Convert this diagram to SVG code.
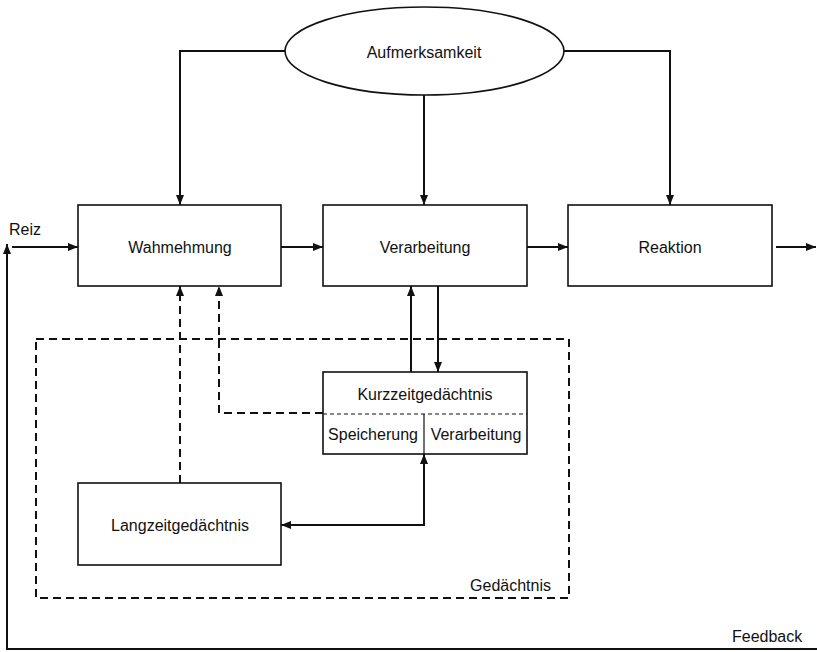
<svg xmlns="http://www.w3.org/2000/svg" width="817" height="652" viewBox="0 0 817 652">
<style>
text{font-family:"Liberation Sans",Arial,sans-serif;font-size:16px;fill:#111}
.box{fill:#fff;stroke:#111;stroke-width:1.6}
.c{fill:none;stroke:#111;stroke-width:2}
.d{fill:none;stroke:#111;stroke-width:2;stroke-dasharray:8 5}
.thin{fill:none;stroke:#111;stroke-width:1.2;stroke-dasharray:4 3}
</style>
<defs>
<marker id="a" markerUnits="userSpaceOnUse" markerWidth="10" markerHeight="8" refX="10" refY="4" orient="auto-start-reverse">
<path d="M0,0 L10,4 L0,8 z" fill="#111"/>
</marker>
</defs>
<g id="gedaechtnis">
<rect x="36" y="339" width="533" height="259" class="d"/>
<text x="551" y="591" text-anchor="end">Gedächtnis</text>
</g>
<g id="aufmerksamkeit">
<ellipse cx="424.5" cy="51" rx="139.5" ry="44" class="box"/>
<text x="424" y="58" text-anchor="middle">Aufmerksamkeit</text>
</g>
<g id="wahrnehmung">
<rect x="78" y="205" width="203" height="81" class="box"/>
<text x="180" y="253" text-anchor="middle">Wahmehmung</text>
</g>
<g id="verarbeitung">
<rect x="323" y="205" width="204" height="81" class="box"/>
<text x="425" y="253" text-anchor="middle">Verarbeitung</text>
</g>
<g id="reaktion">
<rect x="568" y="205" width="204" height="81" class="box"/>
<text x="670" y="253" text-anchor="middle">Reaktion</text>
</g>
<g id="kurzzeit">
<rect x="323" y="372" width="204" height="82" class="box"/>
<line x1="323" y1="414" x2="527" y2="414" class="thin"/>
<line x1="424" y1="414" x2="424" y2="454" stroke="#111" stroke-width="1.2"/>
<text x="425" y="400" text-anchor="middle">Kurzzeitgedächtnis</text>
<text x="373" y="440" text-anchor="middle">Speicherung</text>
<text x="476" y="440" text-anchor="middle">Verarbeitung</text>
</g>
<g id="langzeit">
<rect x="78" y="483" width="203" height="82" class="box"/>
<text x="180" y="531" text-anchor="middle">Langzeitgedächtnis</text>
</g>
<g id="labels">
<text x="9" y="235">Reiz</text>
<text x="732" y="642">Feedback</text>
</g>
<g id="connectors">
<path d="M285,51 H180 V205" class="c" marker-end="url(#a)"/>
<path d="M424,95 V205" class="c" marker-end="url(#a)"/>
<path d="M564,51 H670 V205" class="c" marker-end="url(#a)"/>
<path d="M12,247 H78" class="c" marker-end="url(#a)"/>
<path d="M281,247 H323" class="c" marker-end="url(#a)"/>
<path d="M527,247 H568" class="c" marker-end="url(#a)"/>
<path d="M776,247 H816" class="c" marker-end="url(#a)"/>
<path d="M817,649 H7 V244" class="c" marker-end="url(#a)"/>
<path d="M411,372 V286" class="c" marker-end="url(#a)"/>
<path d="M438,286 V372" class="c" marker-end="url(#a)"/>
<path d="M180,483 V286" class="d" marker-end="url(#a)"/>
<path d="M323,413 H219 V286" class="d" marker-end="url(#a)"/>
<path d="M281,525 H424 V454" class="c" marker-start="url(#a)" marker-end="url(#a)"/>
</g>
</svg>
